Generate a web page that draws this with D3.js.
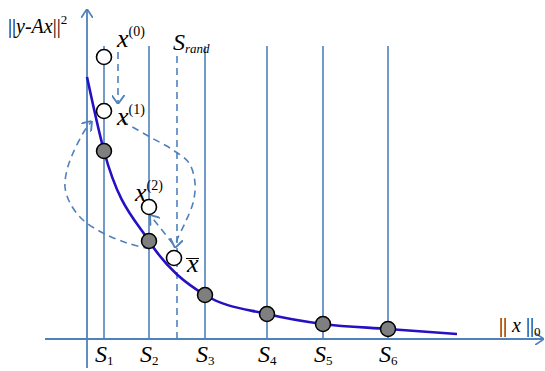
<!DOCTYPE html>
<html><head><meta charset="utf-8">
<script src="https://cdn.jsdelivr.net/npm/d3@7"></script>
<style>
html,body{margin:0;padding:0;background:#fff;}
svg{display:block;}
text{font-family:"Liberation Serif","Times New Roman",serif;fill:#000;-webkit-font-smoothing:antialiased;}
</style></head>
<body>
<svg id="c" width="545" height="371"></svg>
<script>
// ---- data (x: sparsity ||x||_0, y: residual ||y-Ax||^2, arbitrary units) ----
const supportLabels = ["1", "2", "3", "4", "5", "6"];
const supportSparsity = [1.7, 6.2, 11.8, 18.0, 23.6, 30.1];
const supportError = [18.8, 9.8, 4.4, 2.5, 1.5, 1.0];
const curveSparsity = [0, 1.7, 6.2, 11.8, 18.0, 23.6, 30.1, 37.0];
const curveError = [26.2, 18.8, 9.8, 4.4, 2.5, 1.5, 1.0, 0.5];
const randSparsity = 9.0;
const iterLabels = ["(0)", "(1)", "(2)"];
const iterSparsity = [1.7, 1.7, 6.2];
const iterError = [28.2, 22.8, 13.2];
const xbarSparsity = 8.7;
const xbarError = 8.1;
// annotation arrow paths (data units)
const arrowDown = [[3.1, 28.7], [3.1, 23.5]];
const loopRight = [[3.5, 21.8], [6.3, 20.2], [8.6, 18.9], [10.2, 17.6], [10.8, 15.6], [10.6, 13.6], [9.8, 11.6], [9.0, 9.9], [8.8, 9.1]];
const loopLeft = [[6.3, 9.0], [4.0, 9.6], [1.6, 10.6], [-0.4, 11.9], [-1.7, 13.6], [-2.2, 15.2], [-2.0, 16.9], [-1.4, 18.6], [-0.2, 20.9], [0.5, 21.8]];
const diagonal = [[8.6, 9.5], [6.3, 12.4]];

const svg = d3.select("#c");
const x = d3.scaleLinear().domain([0, 45.7]).range([87, 544]);
const y = d3.scaleLinear().domain([0, 33]).range([339, 9]);

const axisBlue = "#4f81bd";
const curveBlue = "#2510c4";

const defs = svg.append("defs");
defs.append("marker").attr("id", "vee")
  .attr("viewBox", "0 0 10 10").attr("preserveAspectRatio", "none")
  .attr("refX", 10).attr("refY", 5)
  .attr("markerUnits", "userSpaceOnUse").attr("markerWidth", 9).attr("markerHeight", 13)
  .attr("orient", "auto-start-reverse")
  .append("path").attr("d", "M0,0 L10,5 L0,10").attr("fill", "none")
  .attr("stroke", axisBlue).attr("stroke-width", 1.6);
defs.append("marker").attr("id", "axvee")
  .attr("viewBox", "0 0 10 10").attr("preserveAspectRatio", "none")
  .attr("refX", 10).attr("refY", 5)
  .attr("markerUnits", "userSpaceOnUse").attr("markerWidth", 9).attr("markerHeight", 12)
  .attr("orient", "auto")
  .append("path").attr("d", "M0,0 L10,5 L0,10").attr("fill", "none")
  .attr("stroke", axisBlue).attr("stroke-width", 1.6);

// axes
svg.append("line").attr("x1", x(0)).attr("x2", x(0)).attr("y1", y(-2.9)).attr("y2", y(33))
  .attr("stroke", axisBlue).attr("stroke-width", 1.8).attr("marker-end", "url(#axvee)");
svg.append("line").attr("x1", x(-4.2)).attr("x2", x(45.7)).attr("y1", y(0)).attr("y2", y(0))
  .attr("stroke", axisBlue).attr("stroke-width", 1.8).attr("marker-end", "url(#axvee)");

// support vertical lines
svg.selectAll("line.sup").data(supportSparsity).join("line").attr("class", "sup")
  .attr("x1", d => x(d)).attr("x2", d => x(d)).attr("y1", y(0)).attr("y2", y(29.3))
  .attr("stroke", axisBlue).attr("stroke-width", 1.6);
svg.append("line").attr("x1", x(randSparsity)).attr("x2", x(randSparsity)).attr("y1", y(0)).attr("y2", y(28.7))
  .attr("stroke", axisBlue).attr("stroke-width", 1.6).attr("stroke-dasharray", "7,5");

// dashed arrows
const dline = d3.line().x(d => x(d[0])).y(d => y(d[1])).curve(d3.curveCatmullRom.alpha(0.5));
[arrowDown, loopRight, loopLeft, diagonal].forEach(p => {
  svg.append("path").attr("d", dline(p)).attr("fill", "none")
    .attr("stroke", axisBlue).attr("stroke-width", 1.6).attr("stroke-dasharray", "7,5")
    .attr("marker-end", "url(#vee)");
});

// curve
const cdata = curveSparsity.map((v, i) => [v, curveError[i]]);
svg.append("path").attr("d", d3.line().x(d => x(d[0])).y(d => y(d[1])).curve(d3.curveMonotoneX)(cdata))
  .attr("fill", "none").attr("stroke", curveBlue).attr("stroke-width", 2.6);

// filled points
svg.selectAll("circle.sol").data(supportSparsity).join("circle").attr("class", "sol")
  .attr("cx", d => x(d)).attr("cy", (d, i) => y(supportError[i])).attr("r", 7.5)
  .attr("fill", "#7f7f7f").attr("stroke", "#000").attr("stroke-width", 1.5);

// open iterate points
const openPts = iterSparsity.map((v, i) => [v, iterError[i]]).concat([[xbarSparsity, xbarError]]);
svg.selectAll("circle.it").data(openPts).join("circle").attr("class", "it")
  .attr("cx", d => x(d[0])).attr("cy", d => y(d[1])).attr("r", 7.5)
  .attr("fill", "#fff").attr("stroke", "#000").attr("stroke-width", 1.6);

// y label ||y-Ax||^2
const yl = svg.append("text").attr("x", 8).attr("y", 33).attr("font-size", 20);
yl.append("tspan").text("||");
yl.append("tspan").attr("font-style", "italic").text("y-Ax");
yl.append("tspan").text("||");
yl.append("tspan").attr("font-size", 13).attr("dy", -9).text("2");

// x label ||x||_0
const xl = svg.append("text").attr("x", 499).attr("y", 332).attr("font-size", 20);
xl.append("tspan").text("|| ");
xl.append("tspan").attr("font-style", "italic").text("x");
xl.append("tspan").text(" ||");
xl.append("tspan").attr("font-size", 13).attr("dy", 4).text("0");

// support labels S_i
supportSparsity.forEach((v, i) => {
  const t = svg.append("text").attr("x", x(v) - 9).attr("y", 362).attr("font-size", 24);
  t.append("tspan").attr("font-style", "italic").text("S");
  t.append("tspan").attr("font-size", 13).attr("dy", 3).text(supportLabels[i]);
});

// S_rand
const sr = svg.append("text").attr("x", x(randSparsity) - 4).attr("y", 50).attr("font-size", 24);
sr.append("tspan").attr("font-style", "italic").text("S");
sr.append("tspan").attr("font-style", "italic").attr("font-size", 13).attr("dy", 3).text("rand");

// iterate labels x^(k)
const labelOff = [[10, 10], [10, -14], [-17, 6]];
iterSparsity.forEach((v, i) => {
  const t = svg.append("text").attr("x", x(v) + labelOff[i][0] + 3).attr("y", y(iterError[i]) - labelOff[i][1]).attr("font-size", 26);
  t.append("tspan").attr("font-style", "italic").text("x");
  t.append("tspan").attr("font-size", 14).attr("dy", -11).text(iterLabels[i]);
});

// x bar
svg.append("text").attr("x", x(xbarSparsity) + 13).attr("y", y(xbarError) + 14)
  .attr("font-size", 26).attr("font-style", "italic").text("x");
svg.append("line").attr("x1", x(xbarSparsity) + 12).attr("x2", x(xbarSparsity) + 25)
  .attr("y1", y(xbarError) + 0.5).attr("y2", y(xbarError) + 0.5).attr("stroke", "#000").attr("stroke-width", 1);
</script>
</body></html>
